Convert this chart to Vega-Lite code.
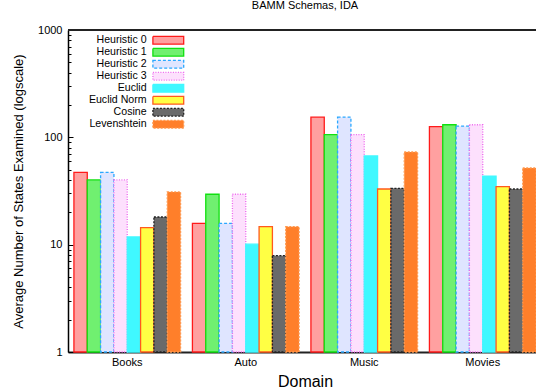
{
  "$schema": "https://vega.github.io/schema/vega-lite/v6.json",
  "width": 468,
  "height": 322,
  "autosize": {"type": "none"},
  "padding": {"left": 68, "top": 30, "right": 0, "bottom": 36},
  "background": "white",
  "config": {
    "font": "Liberation Sans",
    "view": {"stroke": null},
    "legend": {"rowPadding": -8, "layout": {"anchor": "start"}},
    "axis": {"labelColor": "#000", "titleColor": "#000", "titleFontWeight": "normal", "labelFont": "Liberation Sans", "titleFont": "Liberation Sans", "grid": false}
  },
  "title": {"text": "BAMM Schemas, IDA", "fontSize": 11, "fontWeight": "normal", "color": "#000", "offset": 13, "dx": 3},
  "data": {"values": [
    {"domain": "Books", "series": "Heuristic 0", "v": 47.2},
    {"domain": "Books", "series": "Heuristic 1", "v": 40.1},
    {"domain": "Books", "series": "Heuristic 2", "v": 47.2},
    {"domain": "Books", "series": "Heuristic 3", "v": 40.1},
    {"domain": "Books", "series": "Euclid", "v": 11.8},
    {"domain": "Books", "series": "Euclid Norm", "v": 14.4},
    {"domain": "Books", "series": "Cosine", "v": 18.1},
    {"domain": "Books", "series": "Levenshtein", "v": 31.0},
    {"domain": "Auto", "series": "Heuristic 0", "v": 15.8},
    {"domain": "Auto", "series": "Heuristic 1", "v": 29.5},
    {"domain": "Auto", "series": "Heuristic 2", "v": 15.8},
    {"domain": "Auto", "series": "Heuristic 3", "v": 29.5},
    {"domain": "Auto", "series": "Euclid", "v": 10.1},
    {"domain": "Auto", "series": "Euclid Norm", "v": 14.7},
    {"domain": "Auto", "series": "Cosine", "v": 7.9},
    {"domain": "Auto", "series": "Levenshtein", "v": 14.7},
    {"domain": "Music", "series": "Heuristic 0", "v": 154},
    {"domain": "Music", "series": "Heuristic 1", "v": 106},
    {"domain": "Music", "series": "Heuristic 2", "v": 154},
    {"domain": "Music", "series": "Heuristic 3", "v": 106},
    {"domain": "Music", "series": "Euclid", "v": 67},
    {"domain": "Music", "series": "Euclid Norm", "v": 33},
    {"domain": "Music", "series": "Cosine", "v": 33.5},
    {"domain": "Music", "series": "Levenshtein", "v": 73},
    {"domain": "Movies", "series": "Heuristic 0", "v": 126},
    {"domain": "Movies", "series": "Heuristic 1", "v": 131},
    {"domain": "Movies", "series": "Heuristic 2", "v": 127},
    {"domain": "Movies", "series": "Heuristic 3", "v": 131},
    {"domain": "Movies", "series": "Euclid", "v": 43.4},
    {"domain": "Movies", "series": "Euclid Norm", "v": 34.7},
    {"domain": "Movies", "series": "Cosine", "v": 33},
    {"domain": "Movies", "series": "Levenshtein", "v": 51.8}
  ]},
  "resolve": {"axis": {"y": "independent"}},
  "layer": [
    {
      "mark": {"type": "bar", "strokeWidth": 1.3},
      "encoding": {
        "x": {"field": "domain", "type": "nominal", "sort": ["Books", "Auto", "Music", "Movies"],
          "scale": {"range": [0, 474], "paddingInner": 0.1, "paddingOuter": 0.05},
          "axis": {"title": "Domain", "titleFontSize": 16, "titlePadding": 6, "titleX": 237, "labelAngle": 0, "labelFontSize": 11, "labelPadding": 4, "ticks": false, "domainColor": "#222", "domainWidth": 2}},
        "xOffset": {"field": "series", "type": "nominal", "sort": ["Heuristic 0", "Heuristic 1", "Heuristic 2", "Heuristic 3", "Euclid", "Euclid Norm", "Cosine", "Levenshtein"],
          "scale": {"paddingInner": 0, "paddingOuter": 0}},
        "y": {"field": "v", "type": "quantitative",
          "scale": {"type": "log", "domain": [1, 1000], "nice": false},
          "axis": {"orient": "left", "values": [1, 10, 100, 1000], "format": "d", "title": "Average Number of States Examined (logscale)", "titleFontSize": 13, "titlePadding": 12, "labelFontSize": 11, "tickSize": -5, "labelPadding": 11, "tickColor": "#000", "domainColor": "#000", "domainWidth": 1.5}},
        "y2": {"datum": 1},
        "fill": {"field": "series", "type": "nominal", "sort": ["Heuristic 0", "Heuristic 1", "Heuristic 2", "Heuristic 3", "Euclid", "Euclid Norm", "Cosine", "Levenshtein"],
          "scale": {"domain": ["Heuristic 0", "Heuristic 1", "Heuristic 2", "Heuristic 3", "Euclid", "Euclid Norm", "Cosine", "Levenshtein"],
            "range": ["#ffa0a0", "#70f070", "#dfe5ff", "#fde0fd", "#40f8ff", "#ffff44", "#6a6a6a", "#ff7f2a"]},
          "legend": {"title": null, "orient": "none", "legendX": 95, "legendY": 5, "symbolType": "M-4.4,-1.1L4.4,-1.1L4.4,1.1L-4.4,1.1Z", "symbolSize": 49, "symbolOffset": 0, "labelAlign": "right", "labelOffset": -27, "labelFontSize": 10.6, "labelColor": "#000", "rowPadding": -8, "symbolStrokeWidth": 1.3, "symbolOpacity": 1}},
        "stroke": {"field": "series", "type": "nominal", "sort": ["Heuristic 0", "Heuristic 1", "Heuristic 2", "Heuristic 3", "Euclid", "Euclid Norm", "Cosine", "Levenshtein"],
          "scale": {"domain": ["Heuristic 0", "Heuristic 1", "Heuristic 2", "Heuristic 3", "Euclid", "Euclid Norm", "Cosine", "Levenshtein"],
            "range": ["#ff1a1a", "#10e010", "#2aa8ff", "#ee66ee", "#40f8ff", "#ff5a1e", "#222222", "#ff9a50"]}},
        "strokeDash": {"field": "series", "type": "nominal", "sort": ["Heuristic 0", "Heuristic 1", "Heuristic 2", "Heuristic 3", "Euclid", "Euclid Norm", "Cosine", "Levenshtein"],
          "scale": {"domain": ["Heuristic 0", "Heuristic 1", "Heuristic 2", "Heuristic 3", "Euclid", "Euclid Norm", "Cosine", "Levenshtein"],
            "range": [[1, 0], [1, 0], [3, 2], [1, 1.5], [1, 0], [1, 0], [2, 1.5], [2, 1.5]]}}
      }
    },
    {
      "mark": {"type": "rule", "color": "#222", "strokeWidth": 2},
      "encoding": {
        "y": {"datum": 1000, "type": "quantitative",
          "axis": {"orient": "left", "title": null, "labels": false, "domain": false, "tickSize": -3, "tickColor": "#000",
            "values": [2, 3, 4, 5, 6, 7, 8, 9, 20, 30, 40, 50, 60, 70, 80, 90, 200, 300, 400, 500, 600, 700, 800, 900]}}
      }
    }
  ]
}
